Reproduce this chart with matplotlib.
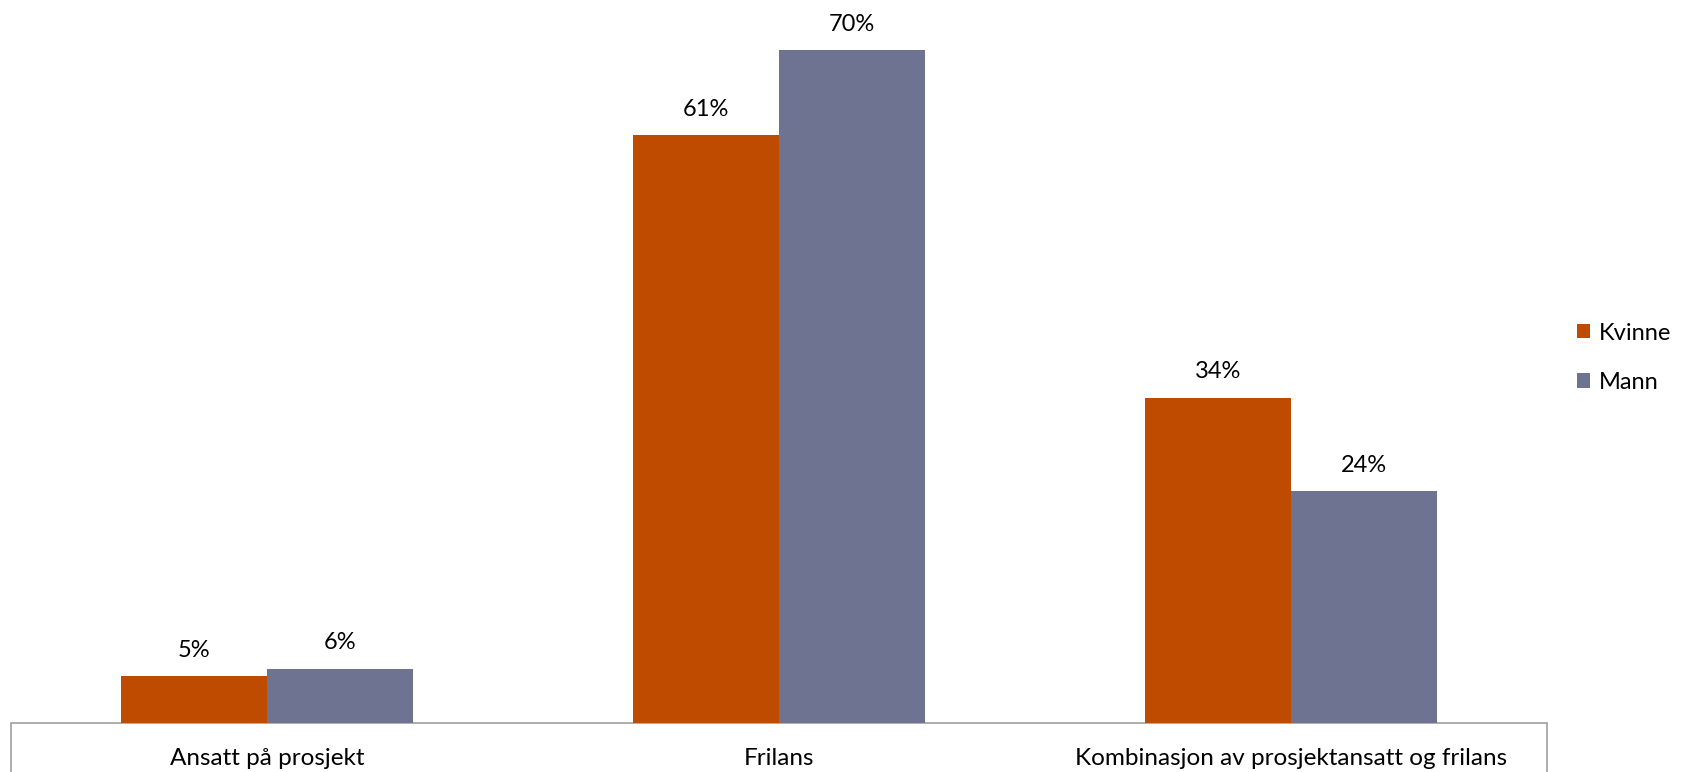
import numpy as np
import matplotlib.pyplot as plt

plt.rcParams['font.family'] = ['Lato', 'DejaVu Sans']

# data
categories = ['Ansatt på prosjekt', 'Frilans', 'Kombinasjon av prosjektansatt og frilans']
kvinne = [4.8, 61.1, 33.8]
mann = [5.6, 70.0, 24.1]
series = {'Kvinne': kvinne, 'Mann': mann}
colors = {'Kvinne': '#BE4B00', 'Mann': '#6E7391'}

fig = plt.figure(figsize=(16.96, 7.72), dpi=100)
ax = fig.add_axes([0.0065, 0.064, 0.9055, 0.936])

x = np.arange(len(categories))
w = 0.285
for i, (name, vals) in enumerate(series.items()):
    pos = x + (i - 0.5) * w
    bars = ax.bar(pos, vals, w, color=colors[name], label=name, zorder=3)
    for b, v in zip(bars, vals):
        ax.text(b.get_x() + b.get_width() / 2, v + 1.6, f'{round(v):.0f}%',
                ha='center', va='bottom', fontsize=17)

ax.set_xlim(-0.5, 2.5)
ax.set_ylim(0, 75.2)
ax.set_yticks([])
for s in ['top', 'left', 'right']:
    ax.spines[s].set_visible(False)
ax.spines['bottom'].set_color('#a0a0a0')
ax.spines['bottom'].set_linewidth(1.2)

# separators at ends like Excel category axis
ax.set_xticks([-0.5, 2.5])
ax.set_xticklabels(['', ''])
ax.tick_params(axis='x', which='major', length=36, color='#a0a0a0', width=1.2)
ax.set_xticks(x, minor=True)
ax.set_xticklabels(categories, minor=True, fontsize=17.5)
ax.tick_params(axis='x', which='minor', length=0, pad=18)

ax.legend(loc='center left', bbox_to_anchor=(1.006, 0.505), frameon=False,
          fontsize=17, handlelength=0.55, handleheight=0.55, handletextpad=0.35,
          labelspacing=1.2)

fig.savefig('out.png', dpi=100)
